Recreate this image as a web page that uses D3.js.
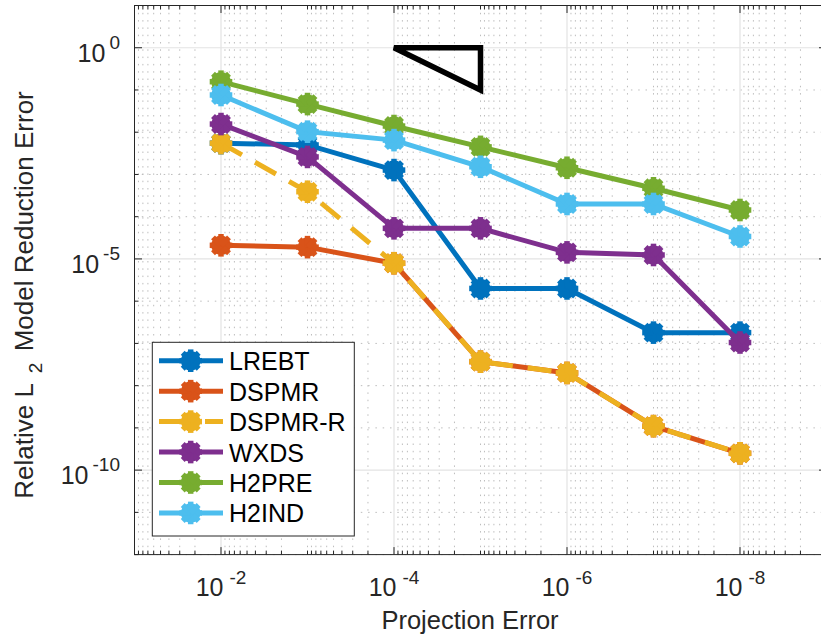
<!DOCTYPE html>
<html>
<head>
<meta charset="utf-8">
<script src="https://cdn.jsdelivr.net/npm/d3@7"></script>
<style>
  body { margin: 0; background: #fff; }
  svg { display: block; font-family: "Liberation Sans", Arial, sans-serif; }
</style>
</head>
<body>
<svg id="chart"></svg>
<script>
// projection error levels (x) and errors per method (y)
const xValues = [1e-2, 1e-3, 1e-4, 1e-5, 1e-6, 1e-7, 1e-8];
const lrebt  = [5.5e-3, 5.0e-3, 1.27e-3, 2.0e-6, 2.0e-6, 1.8e-7, 1.8e-7];
const dspmr  = [2.1e-5, 1.9e-5, 7.9e-6, 3.7e-8, 2.0e-8, 1.1e-9, 2.5e-10];
const dspmrR = [5.5e-3, 3.9e-4, 7.9e-6, 3.7e-8, 2.0e-8, 1.1e-9, 2.5e-10];
const wxds   = [1.56e-2, 2.6e-3, 5.3e-5, 5.3e-5, 1.43e-5, 1.24e-5, 1.05e-7];
const h2pre  = [0.157, 0.0464, 0.014, 4.5e-3, 1.44e-3, 4.7e-4, 1.44e-4];
const h2ind  = [0.076, 0.0103, 6.5e-3, 1.52e-3, 2.0e-4, 2.0e-4, 3.4e-5];

const seriesNames = ['LREBT', 'DSPMR', 'DSPMR-R', 'WXDS', 'H2PRE', 'H2IND'];
const seriesValues = [lrebt, dspmr, dspmrR, wxds, h2pre, h2ind];

// slope triangle
const triX = [1e-4, 1e-5, 1e-5];
const triY = [1, 1, 0.1];

const xTickExps = [-2, -4, -6, -8];
const yTickExps = [0, -5, -10];

const colors = ['#0072BD', '#D95319', '#EDB120', '#7E2F8E', '#77AC30', '#4DBEEE'];
const dashes = [null, null, '24,15', null, null, null];

const W = 821, H = 639;
const pLeft = 134.5, pRight = 826.5, pTop = 5.5, pBottom = 554.6;

const svg = d3.select('#chart').attr('width', W).attr('height', H);

const x = d3.scaleLog().domain([1e-1, 1e-9]).range([pLeft, pRight]);
const y = d3.scaleLog().domain([1e1, 1e-12]).range([pTop, pBottom]);

const axisCol = '#262626';

// grid
const minorX = [];
for (let k = -9; k <= -1; k++) {
  for (let m = 1; m <= 9; m++) {
    if (m === 1 && xTickExps.includes(k)) continue;
    if (k === -1 && m > 1) continue;
    minorX.push(m * Math.pow(10, k));
  }
}
const minorY = [];
for (let k = -12; k <= 1; k++) if (!yTickExps.includes(k)) minorY.push(Math.pow(10, k));

const grid = svg.append('g');
grid.selectAll('.mx').data(minorX).enter().append('line')
  .attr('x1', d => x(d)).attr('x2', d => x(d))
  .attr('y1', pTop).attr('y2', pBottom)
  .attr('stroke', '#bdbdbd').attr('stroke-width', 1)
  .attr('stroke-dasharray', '1.5,5.8');
grid.selectAll('.my').data(minorY).enter().append('line')
  .attr('x1', pLeft).attr('x2', pRight)
  .attr('y1', d => y(d)).attr('y2', d => y(d))
  .attr('stroke', '#bdbdbd').attr('stroke-width', 1)
  .attr('stroke-dasharray', '1.5,5.8');
grid.selectAll('.gx').data(xTickExps).enter().append('line')
  .attr('x1', d => x(Math.pow(10, d))).attr('x2', d => x(Math.pow(10, d)))
  .attr('y1', pTop).attr('y2', pBottom)
  .attr('stroke', '#e3e3e3').attr('stroke-width', 1.2);
grid.selectAll('.gy').data(yTickExps).enter().append('line')
  .attr('x1', pLeft).attr('x2', pRight)
  .attr('y1', d => y(Math.pow(10, d))).attr('y2', d => y(Math.pow(10, d)))
  .attr('stroke', '#e3e3e3').attr('stroke-width', 1.2);

// ticks (inward, all four sides)
const ticks = svg.append('g').attr('stroke', axisCol).attr('stroke-width', 1);
minorX.forEach(v => {
  ticks.append('line').attr('x1', x(v)).attr('x2', x(v)).attr('y1', pBottom).attr('y2', pBottom - 4);
  ticks.append('line').attr('x1', x(v)).attr('x2', x(v)).attr('y1', pTop).attr('y2', pTop + 4);
});
xTickExps.forEach(e => {
  const v = Math.pow(10, e);
  ticks.append('line').attr('x1', x(v)).attr('x2', x(v)).attr('y1', pBottom).attr('y2', pBottom - 7.5);
  ticks.append('line').attr('x1', x(v)).attr('x2', x(v)).attr('y1', pTop).attr('y2', pTop + 7.5);
});
minorY.forEach(v => {
  ticks.append('line').attr('y1', y(v)).attr('y2', y(v)).attr('x1', pLeft).attr('x2', pLeft + 4);
  ticks.append('line').attr('y1', y(v)).attr('y2', y(v)).attr('x1', pRight).attr('x2', pRight - 4);
});
yTickExps.forEach(e => {
  const v = Math.pow(10, e);
  ticks.append('line').attr('y1', y(v)).attr('y2', y(v)).attr('x1', pLeft).attr('x2', pLeft + 7.5);
  ticks.append('line').attr('y1', y(v)).attr('y2', y(v)).attr('x1', pRight).attr('x2', pRight - 7.5);
});

// box
svg.append('rect')
  .attr('x', pLeft).attr('y', pTop)
  .attr('width', pRight - pLeft).attr('height', pBottom - pTop)
  .attr('fill', 'none').attr('stroke', axisCol).attr('stroke-width', 1);

// tick labels
xTickExps.forEach(e => {
  const t = svg.append('text')
    .attr('x', x(Math.pow(10, e))).attr('y', pBottom + 41.5)
    .attr('text-anchor', 'middle')
    .attr('fill', axisCol).style('font-size', '25px');
  t.append('tspan').text('10');
  t.append('tspan').attr('dx', 6).attr('dy', -12.5).style('font-size', '19px').text(e);
});
yTickExps.forEach(e => {
  const t = svg.append('text')
    .attr('x', 120).attr('y', y(Math.pow(10, e)) + 14)
    .attr('text-anchor', 'end')
    .attr('fill', axisCol).style('font-size', '25px');
  t.append('tspan').text('10');
  t.append('tspan').attr('dx', 4).attr('dy', -13).style('font-size', '19px').text(e);
});

// axis labels
svg.append('text')
  .attr('x', 470).attr('y', 629)
  .attr('text-anchor', 'middle')
  .attr('fill', axisCol).style('font-size', '25.5px')
  .text('Projection Error');

const yl = svg.append('text')
  .attr('transform', 'translate(33,295) rotate(-90)')
  .attr('text-anchor', 'middle')
  .attr('fill', axisCol).style('font-size', '26px');
yl.append('tspan').text('Relative L');
yl.append('tspan').attr('dx', 10).attr('dy', 9).style('font-size', '19px').text('2');
yl.append('tspan').attr('dx', 4).attr('dy', -9).text(' Model Reduction Error');

// marker: asterisk drawn thick, looks like a scalloped blob
function marker(g, cx, cy, col) {
  const m = g.append('g').attr('transform', `translate(${cx},${cy})`);
  m.append('circle').attr('r', 9.8).attr('fill', col);
  for (let i = 0; i < 8; i++) {
    const a = i * Math.PI / 4;
    m.append('line')
      .attr('x1', 0).attr('y1', 0)
      .attr('x2', 11.3 * Math.cos(a)).attr('y2', 11.3 * Math.sin(a))
      .attr('stroke', col).attr('stroke-width', 5.5);
  }
}

const line = d3.line().x(d => x(d[0])).y(d => y(d[1]));

seriesValues.forEach((vals, i) => {
  const pts = xValues.map((xv, j) => [xv, vals[j]]);
  const g = svg.append('g');
  g.append('path')
    .attr('d', line(pts))
    .attr('fill', 'none')
    .attr('stroke', colors[i])
    .attr('stroke-width', 5)
    .attr('stroke-dasharray', dashes[i]);
  pts.forEach(p => marker(g, x(p[0]), y(p[1]), colors[i]));
});

// slope triangle
svg.append('path')
  .attr('d', line(triX.map((v, i) => [v, triY[i]])) + 'Z')
  .attr('fill', 'none').attr('stroke', '#000')
  .attr('stroke-width', 5.5).attr('stroke-linejoin', 'miter');

// legend
const lg = svg.append('g');
lg.append('rect')
  .attr('x', 152.3).attr('y', 342.3).attr('width', 202).attr('height', 193.7)
  .attr('fill', '#fff').attr('stroke', axisCol).attr('stroke-width', 1);
seriesNames.forEach((name, i) => {
  const cy = 360.7 + i * 30.45;
  lg.append('line')
    .attr('x1', 159).attr('x2', 223).attr('y1', cy).attr('y2', cy)
    .attr('stroke', colors[i]).attr('stroke-width', 5)
    .attr('stroke-dasharray', dashes[i] ? '38,8,18' : null);
  marker(lg, 190.7, cy, colors[i]);
  lg.append('text')
    .attr('x', 229).attr('y', cy + 9.5)
    .attr('fill', '#000').style('font-size', '25px')
    .text(name);
});
</script>
</body>
</html>
